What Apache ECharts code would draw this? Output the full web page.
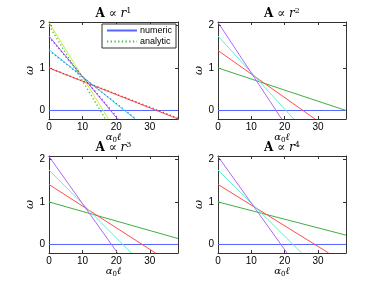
<!DOCTYPE html>
<html><head><meta charset="utf-8">
<script src="https://cdn.jsdelivr.net/npm/echarts@6/dist/echarts.min.js"></script>
<style>html,body{margin:0;padding:0;background:#fff}#c{width:382px;height:287px}</style>
</head><body><div id="c"></div>
<script>
// ---- data ----
const xTicks = [0, 10, 20, 30];
const yTicks = [0, 1, 2];
const xMax = 38.4;
const yMin = -0.2;
const yMax = 2.08;
const exponents = ['1', '2', '3', '4'];
const legendNames = ['numeric', 'analytic'];

// each line: [[x0, y0], [x1, y1]]
const panel1Solid = [
  [[0, 0], [38.4, 0]],
  [[0, 1.0], [38.4, -0.2]],
  [[0, 1.43], [25.6, -0.2]],
  [[0, 1.75], [20.4, -0.2]],
  [[0, 2.07], [17.7, -0.2]]
];
const panel1Dotted = [
  [[0, 1.0], [38.4, -0.18]],
  [[0, 1.41], [25.9, -0.2]],
  [[0, 1.73], [20.7, -0.2]],
  [[0, 2.0], [16.8, -0.2]]
];
const panel2Solid = [
  [[0, 0], [38.4, 0]],
  [[0, 1.0], [38.4, 0.0]],
  [[0, 1.41], [29.1, -0.2]],
  [[0, 1.75], [22.7, -0.2]],
  [[0, 2.07], [19.1, -0.2]]
];
const panel3Solid = [
  [[0, 0], [38.4, 0]],
  [[0, 1.0], [38.4, 0.14]],
  [[0, 1.41], [31.7, -0.2]],
  [[0, 1.75], [24.5, -0.2]],
  [[0, 2.07], [20.4, -0.2]]
];
const panel4Solid = [
  [[0, 0], [38.4, 0]],
  [[0, 1.0], [38.4, 0.22]],
  [[0, 1.41], [33.2, -0.2]],
  [[0, 1.75], [25.1, -0.2]],
  [[0, 2.07], [20.7, -0.2]]
];

// ---- styles ----
const solidColors1 = ['#5566ff', '#ff4d4d', '#40dde6', '#b066ff', '#c8ec40'];
const dottedColors1 = ['#c83a3a', '#2f8fe0', '#8c3ae0', '#3ec43e'];
const solidColors = ['#5566ff', '#3fb03f', '#ff4d4d', '#5ff0c8', '#b066ff'];
const axisColor = '#333';
const grids = [
  {left: 49, top: 22, width: 129, height: 97},
  {left: 218, top: 22, width: 128, height: 97},
  {left: 49, top: 156, width: 129, height: 97},
  {left: 218, top: 156, width: 128, height: 97}
];
const serif = 'DejaVu Serif';
const sans = 'Liberation Sans';

const xAxes = [], yAxes = [];
function axLine() { return {show: true, onZero: false, lineStyle: {color: axisColor, width: 1}}; }
for (let g = 0; g < 4; g++) {
  xAxes.push({
    type: 'value', gridIndex: g, position: 'bottom', min: 0, max: xMax,
    axisLine: axLine(),
    axisTick: {show: true, inside: true, length: 3, customValues: xTicks, lineStyle: {color: axisColor}},
    axisLabel: {show: true, customValues: xTicks, margin: 3, color: '#000', fontSize: 10, fontFamily: sans},
    splitLine: {show: false},
    name: '{a|α}{s|0}{l|ℓ}', nameLocation: 'middle', nameGap: 12,
    nameTextStyle: {color: '#000', rich: {
      a: {fontFamily: serif, fontStyle: 'italic', fontSize: 10, color: '#000', lineHeight: 11},
      s: {fontFamily: serif, fontSize: 7, color: '#000', verticalAlign: 'bottom'},
      l: {fontFamily: serif, fontStyle: 'italic', fontSize: 10, color: '#000', lineHeight: 11}
    }}
  });
  yAxes.push({
    type: 'value', gridIndex: g, position: 'left', min: yMin, max: yMax,
    axisLine: axLine(),
    axisTick: {show: true, inside: true, length: 3, customValues: yTicks, lineStyle: {color: axisColor}},
    axisLabel: {show: true, customValues: yTicks, margin: 4, color: '#000', fontSize: 10, fontFamily: sans},
    splitLine: {show: false},
    name: 'ω', nameLocation: 'middle', nameGap: 10, nameRotate: 90,
    nameTextStyle: {color: '#000', fontFamily: serif, fontStyle: 'italic', fontSize: 11}
  });
}
for (let g = 0; g < 4; g++) {
  xAxes.push({
    type: 'value', gridIndex: g, position: 'top', min: 0, max: xMax,
    axisLine: axLine(),
    axisTick: {show: true, inside: true, length: 3, customValues: xTicks, lineStyle: {color: axisColor}},
    axisLabel: {show: false}, splitLine: {show: false}
  });
  yAxes.push({
    type: 'value', gridIndex: g, position: 'right', min: yMin, max: yMax,
    axisLine: axLine(),
    axisTick: {show: true, inside: true, length: 3, customValues: yTicks, lineStyle: {color: axisColor}},
    axisLabel: {show: false}, splitLine: {show: false}
  });
}

const series = [];
function addLine(g, data, color, dotted, name) {
  series.push({
    type: 'line', name: name || ('s' + series.length), xAxisIndex: g, yAxisIndex: g,
    data: data, symbol: 'none', clip: true, silent: true, animation: false,
    lineStyle: {color: color, width: dotted ? 1.3 : 1, type: dotted ? [1.3, 2.4] : 'solid'},
    itemStyle: {color: color}, z: dotted ? 3 : 2
  });
}
panel1Solid.forEach((d, i) => addLine(0, d, solidColors1[i], false, i === 0 ? legendNames[0] : null));
panel1Dotted.forEach((d, i) => addLine(0, d, dottedColors1[i], true, i === 3 ? legendNames[1] : null));
[panel2Solid, panel3Solid, panel4Solid].forEach((lines, k) => {
  lines.forEach((d, i) => addLine(k + 1, d, solidColors[i], false, null));
});

const graphics = grids.map((gr, i) => ({
  type: 'text', x: gr.left + gr.width / 2, y: gr.top - 15, silent: true,
  style: {
    text: '{a|A}{p| ∝ }{r|r}{s|' + exponents[i] + '}',
    textAlign: 'center', textVerticalAlign: 'top',
    rich: {
      a: {fontFamily: serif, fontWeight: 'bold', fontSize: 12, fill: '#000', lineHeight: 14},
      p: {fontFamily: serif, fontSize: 12, fill: '#000', lineHeight: 14},
      r: {fontFamily: serif, fontStyle: 'italic', fontSize: 12, fill: '#000', lineHeight: 14},
      s: {fontFamily: serif, fontSize: 8, fill: '#000', verticalAlign: 'top'}
    }
  }
}));

const chart = echarts.init(document.getElementById('c'), null, {renderer: 'canvas'});
chart.setOption({
  animation: false,
  backgroundColor: '#fff',
  grid: grids,
  xAxis: xAxes,
  yAxis: yAxes,
  legend: {
    data: legendNames, orient: 'vertical', left: 102, top: 24,
    padding: [2, 4, 2, 4], itemGap: 2, itemWidth: 30, itemHeight: 10,
    backgroundColor: '#fff', borderColor: axisColor, borderWidth: 1, borderRadius: 0,
    itemStyle: {opacity: 0},
    textStyle: {fontSize: 9, fontFamily: sans, color: '#000', padding: [0, 0, 0, -2]},
    selectedMode: false
  },
  graphic: graphics,
  series: series
});
</script></body></html>
